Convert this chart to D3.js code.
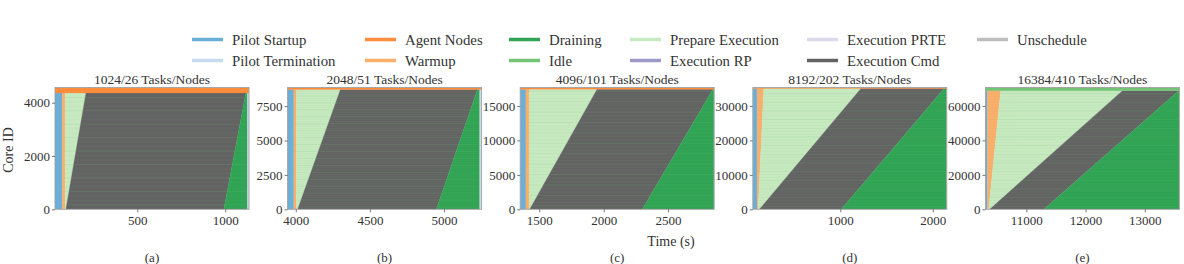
<!DOCTYPE html>
<html><head><meta charset="utf-8">
<script src="https://cdn.jsdelivr.net/npm/d3@7/dist/d3.min.js"></script>
<style>
body{margin:0;background:#fff;}
text{font-family:"Liberation Serif","DejaVu Serif",serif;fill:#333;}
</style></head>
<body><svg id="chart" width="1184" height="264"></svg>
<script>
// ---- data ----
const titles = ["1024/26 Tasks/Nodes","2048/51 Tasks/Nodes","4096/101 Tasks/Nodes","8192/202 Tasks/Nodes","16384/410 Tasks/Nodes"];
const panelLabels = ["(a)","(b)","(c)","(d)","(e)"];
const nodes = [26, 51, 101, 202, 410];
const xMin = [32, 3945, 1352, 54, 10308];
const xMax = [1135, 5253, 2858, 2151, 13585];
const yMax = [4570, 8852, 17680, 35360, 70700];
const coreTop = [4368, 8700, 17435, 35070, 68880];
const startupEnd = [73, 3987, 1396, 101, 10342];
const warmupEndBottom = [90, 4004, 1422, 112, 10364];
const warmupEndTop = [90, 4004, 1422, 173, 10567];
const execStartBottom = [94, 4013, 1426, 126, 10381];
const execStartTop = [208, 4301, 1949, 1223, 12623];
const drainStartBottom = [992, 4948, 2300, 1011, 11296];
const drainStartTop = [1117, 5225, 2848, 2122, 13572];
const drainEnd = [1126, 5240, 2858, 2151, 13585];
const topBandState = ["Agent Nodes","Agent Nodes","Agent Nodes","Agent Nodes","Idle"];
const xTicks = [[500,1000],[4000,4500,5000],[1500,2000,2500],[1000,2000],[11000,12000,13000]];
const yTicks = [[0,2000,4000],[0,2500,5000,7500],[0,5000,10000,15000],[0,10000,20000,30000],[0,20000,40000,60000]];

const legendNames = ["Pilot Startup","Pilot Termination","Agent Nodes","Warmup","Draining","Idle","Prepare Execution","Execution RP","Execution PRTE","Execution Cmd","Unschedule"];
const legendColors = ["#6baed6","#c6dbef","#fd8d3c","#fdae6b","#31a354","#74c476","#c7e9c0","#9e9ac8","#dadaeb","#636363","#bdbdbd"];

const color = d3.scaleOrdinal().domain(legendNames).range(legendColors);
const svg = d3.select("#chart");

// ---- legend ----
const legCols = [192, 365, 509, 630, 807, 977];
const legRows = [39.5, 60.5];
legendNames.forEach((n,i)=>{
  const c = Math.floor(i/2), r = i%2;
  const g = svg.append("g").attr("transform",`translate(${legCols[c]},${legRows[r]})`);
  g.append("line").attr("x1",0).attr("x2",31).attr("y1",0).attr("y2",0)
    .attr("stroke",color(n)).attr("stroke-width",3.5);
  g.append("text").attr("x",40).attr("y",0).attr("dy","0.35em")
    .style("font-size","14.8px").text(n);
});

// ---- panels ----
const plotTop = 87.5, plotBottom = 209.3, pw = 194;
titles.forEach((t,i)=>{
  const left = 55 + i*232.6;
  const x = d3.scaleLinear().domain([xMin[i], xMax[i]]).range([left, left+pw]);
  const y = d3.scaleLinear().domain([0, yMax[i]]).range([plotBottom, plotTop]);
  const g = svg.append("g");
  const clipId = "clip"+i;
  svg.append("clipPath").attr("id",clipId).append("rect")
    .attr("x",left).attr("y",plotTop).attr("width",pw).attr("height",plotBottom-plotTop);
  const area = g.append("g").attr("clip-path",`url(#${clipId})`);
  const ct = coreTop[i];
  const poly = (pts, fill) => area.append("polygon")
    .attr("points", pts.map(p=>[x(p[0]),y(p[1])].join(",")).join(" "))
    .attr("fill", fill).attr("stroke", fill).attr("stroke-width",0.3);

  poly([[xMin[i],0],[startupEnd[i],0],[startupEnd[i],ct],[xMin[i],ct]], color("Pilot Startup"));
  poly([[startupEnd[i],0],[warmupEndBottom[i],0],[warmupEndTop[i],ct],[startupEnd[i],ct]], color("Warmup"));
  poly([[warmupEndBottom[i],0],[execStartBottom[i],0],[execStartTop[i],ct],[warmupEndTop[i],ct]], color("Prepare Execution"));
  poly([[execStartBottom[i],0],[drainStartBottom[i],0],[drainStartTop[i],ct],[execStartTop[i],ct]], color("Execution Cmd"));
  poly([[drainStartBottom[i],0],[drainEnd[i],0],[drainEnd[i],ct],[drainStartTop[i],ct]], color("Draining"));
  poly([[drainEnd[i],0],[xMax[i],0],[xMax[i],ct],[drainEnd[i],ct]], color("Pilot Termination"));

  // node-boundary stripes (idle gaps between task rows)
  const step = 168 * Math.max(1, Math.round(nodes[i]/40));
  const stripes = d3.range(step, ct, step);
  area.append("g").selectAll("line").data(stripes).join("line")
    .attr("x1", x(startupEnd[i])).attr("x2", x(drainEnd[i]))
    .attr("y1", d=>y(d)).attr("y2", d=>y(d))
    .attr("stroke", color("Idle"))
    .attr("stroke-width", 0.5)
    .attr("opacity", (d,k)=> k%3===0 ? 0.35 : 0.15);

  poly([[xMin[i],ct],[xMax[i],ct],[xMax[i],yMax[i]],[xMin[i],yMax[i]]], color(topBandState[i]));

  // frame
  g.append("rect").attr("x",left).attr("y",plotTop).attr("width",pw).attr("height",plotBottom-plotTop)
    .attr("fill","none").attr("stroke","#a0a0a0").attr("stroke-width",0.9);

  // axes
  const xa = g.append("g").attr("transform",`translate(0,${plotBottom})`)
    .call(d3.axisBottom(x).tickValues(xTicks[i]).tickSize(3).tickPadding(3).tickFormat(d3.format("d")));
  const ya = g.append("g").attr("transform",`translate(${left},0)`)
    .call(d3.axisLeft(y).tickValues(yTicks[i]).tickSize(3).tickPadding(2).tickFormat(d3.format("d")));
  [xa,ya].forEach(a=>{
    a.select(".domain").remove();
    a.selectAll(".tick line").attr("stroke","#555").attr("stroke-width",0.8);
    a.selectAll(".tick text").style("font-size","13px").style("font-family","Liberation Serif, serif").attr("fill","#333");
  });

  svg.append("text").attr("x",left+pw/2).attr("y",plotTop-4).attr("text-anchor","middle")
    .style("font-size","13.5px").text(t);
  svg.append("text").attr("x",left+pw/2).attr("y",262).attr("text-anchor","middle")
    .style("font-size","13px").text(panelLabels[i]);
});

svg.append("text").attr("transform","translate(13,150) rotate(-90)").attr("text-anchor","middle")
  .style("font-size","14px").text("Core ID");
svg.append("text").attr("x",671).attr("y",246).attr("text-anchor","middle")
  .style("font-size","14px").text("Time (s)");
</script></body></html>
